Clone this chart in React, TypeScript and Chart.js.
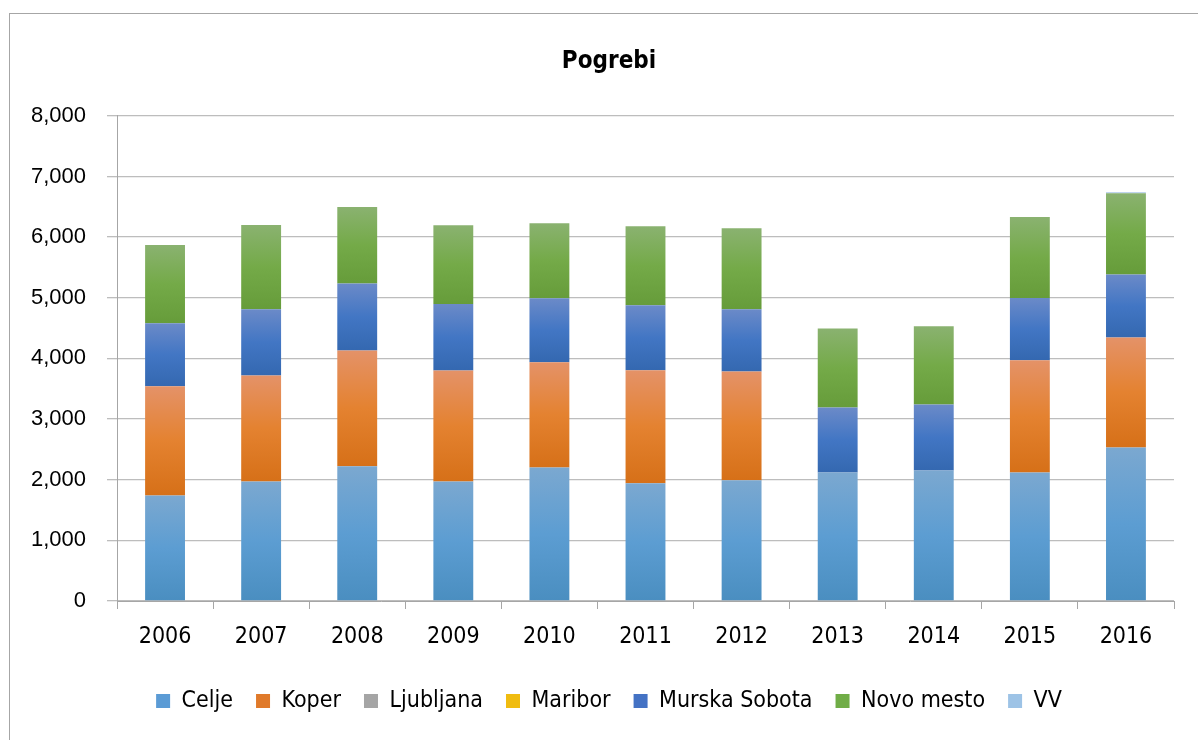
import React, { useEffect, useRef } from "react";
import { Chart, registerables } from "chart.js";

Chart.register(...registerables);

const years = ["2006", "2007", "2008", "2009", "2010", "2011", "2012", "2013", "2014", "2015", "2016"];
const celje = [1740, 1970, 2220, 1970, 2200, 1940, 1990, 2120, 2150, 2120, 2530];
const koper = [1800, 1750, 1910, 1830, 1735, 1865, 1795, null, null, 1850, 1815];
const ljubljana = [null, null, null, null, null, null, null, null, null, null, null];
const maribor = [null, null, null, null, null, null, null, null, null, null, null];
const murskaSobota = [1040, 1090, 1105, 1095, 1055, 1070, 1025, 1070, 1090, 1025, 1040];
const novoMesto = [1290, 1390, 1260, 1300, 1240, 1305, 1335, 1305, 1290, 1335, 1340];
const vv = [null, null, null, null, null, null, null, null, null, null, 15];
const yTicks = [0, 1000, 2000, 3000, 4000, 5000, 6000, 7000, 8000];

const seriesNames = ["Celje", "Koper", "Ljubljana", "Maribor", "Murska Sobota", "Novo mesto", "VV"];
const seriesData = [celje, koper, ljubljana, maribor, murskaSobota, novoMesto, vv];
const seriesGrad = [
  ["#7BA8D0", "#5C9DD2", "#4A8EC0"],
  ["#E49268", "#E48230", "#D67018"],
  ["#C0C0C0", "#A5A5A5", "#959595"],
  ["#F5C842", "#F0BC10", "#E0A800"],
  ["#6B8AC8", "#4276C4", "#3468B0"],
  ["#8AB270", "#74AA48", "#669C3A"],
  ["#B4CDEA", "#A4C3E6", "#94B8E0"],
];
const legendColors = ["#5B9BD5", "#E07A2A", "#A5A5A5", "#F0BC10", "#4472C4", "#70AD47", "#9DC3E6"];

const NARROW = "'DejaVu Sans Condensed', 'Liberation Sans Narrow', 'Liberation Sans', sans-serif";

export default function App() {
  const ref = useRef<HTMLCanvasElement | null>(null);

  useEffect(() => {
    const canvas = ref.current;
    if (!canvas) return;

    const makeBg = (si: number) => (ctx: any) => {
      const chart = ctx.chart;
      if (ctx.dataIndex === undefined || !chart.chartArea || !chart.scales || !chart.scales.y) {
        return legendColors[si];
      }
      const di = ctx.dataIndex;
      let base = 0;
      for (let k = 0; k < si; k++) base += (seriesData[k][di] as number) || 0;
      const top = base + ((seriesData[si][di] as number) || 0);
      const y = chart.scales.y;
      const yTop = y.getPixelForValue(top);
      const yBot = y.getPixelForValue(base);
      if (!isFinite(yTop) || !isFinite(yBot) || yTop === yBot) return legendColors[si];
      const g = chart.ctx.createLinearGradient(0, yTop, 0, yBot);
      g.addColorStop(0, seriesGrad[si][0]);
      g.addColorStop(0.5, seriesGrad[si][1]);
      g.addColorStop(1, seriesGrad[si][2]);
      return g;
    };

    const chart = new Chart(canvas, {
      type: "bar",
      data: {
        labels: years,
        datasets: seriesNames.map((name, si) => ({
          label: name,
          data: seriesData[si],
          backgroundColor: makeBg(si),
          borderWidth: 0,
          barPercentage: 0.415,
          categoryPercentage: 1,
        })),
      },
      options: {
        responsive: false,
        animation: false,
        layout: { padding: { left: 20, right: 0, top: 0, bottom: 17.5 } },
        plugins: {
          tooltip: { enabled: false },
          title: {
            display: true,
            text: "Pogrebi",
            color: "#000",
            font: { family: NARROW, size: 24, weight: "bold" },
            padding: { top: 47, bottom: 40 },
          },
          legend: {
            position: "bottom",
            labels: {
              color: "#000",
              font: { family: NARROW, size: 23 },
              boxWidth: 14,
              boxHeight: 14,
              padding: 23,
              generateLabels: (ch: any) =>
                ch.data.datasets.map((ds: any, i: number) => ({
                  text: ds.label,
                  fillStyle: legendColors[i],
                  strokeStyle: legendColors[i],
                  lineWidth: 0,
                  hidden: false,
                  datasetIndex: i,
                  fontColor: "#000",
                })),
            },
          },
        },
        scales: {
          x: {
            stacked: true,
            afterFit: (s: any) => {
              s.height = 65.5;
            },
            grid: {
              offset: true,
              drawOnChartArea: false,
              drawTicks: true,
              tickLength: 8,
              color: "#A6A6A6",
            },
            border: { display: true, color: "#A6A6A6", width: 1 },
            ticks: {
              color: "#000",
              font: { family: NARROW, size: 23 },
              padding: 14,
              maxRotation: 0,
            },
          },
          y: {
            stacked: true,
            min: 0,
            max: 8000,
            afterFit: (s: any) => {
              s.width = 97;
            },
            afterBuildTicks: (s: any) => {
              s.ticks = yTicks.map((v) => ({ value: v }));
            },
            grid: {
              color: "#BDBDBD",
              lineWidth: 1.3,
              drawTicks: true,
              tickLength: 10,
            },
            border: { display: true, color: "#A6A6A6", width: 1 },
            ticks: {
              color: "#000",
              font: { family: "'Liberation Sans', Arial, sans-serif", size: 22 },
              padding: 21,
              callback: (v: any) => Number(v).toLocaleString("en-US"),
            },
          },
          yRight: {
            position: "right",
            display: true,
            afterFit: (s: any) => {
              s.width = 24;
            },
            grid: { display: false, drawTicks: false },
            border: { display: false },
            ticks: { display: false },
          },
        },
      },
    });

    return () => chart.destroy();
  }, []);

  return (
    <div style={{ position: "fixed", left: 0, top: 0, width: 1198, height: 740, background: "#fff", overflow: "hidden" }}>
      <div
        style={{
          position: "absolute",
          left: 9,
          top: 13,
          width: 1220,
          height: 760,
          border: "1px solid #A6A6A6",
          boxSizing: "border-box",
        }}
      />
      <canvas ref={ref} width={1198} height={740} style={{ position: "absolute", left: 0, top: 0 }} />
    </div>
  );
}
